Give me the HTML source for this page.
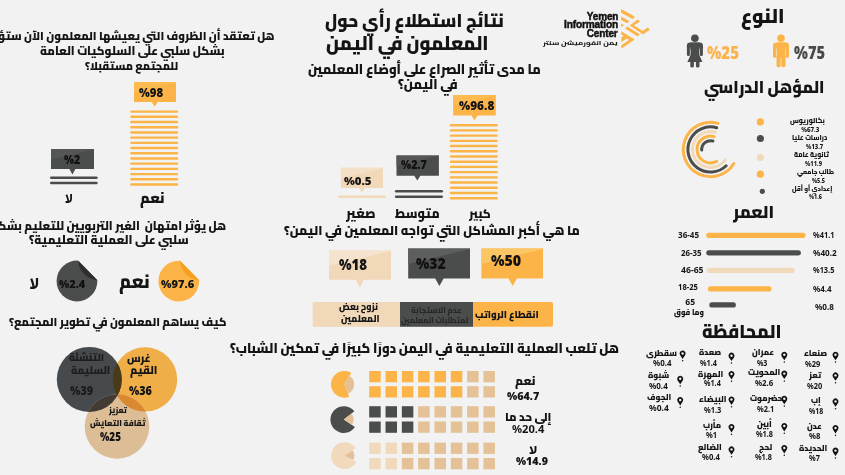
<!DOCTYPE html>
<html><head><meta charset="utf-8"><title>نتائج استطلاع رأي حول المعلمون في اليمن</title>
<style>
html,body{margin:0;padding:0;}
body{width:845px;height:475px;overflow:hidden;background:#f2f2f2;position:relative;}
.t{position:absolute;white-space:nowrap;line-height:1;direction:rtl;unicode-bidi:isolate;}
.b{display:inline-block;width:0;height:0;vertical-align:baseline;}
</style></head><body>
<svg width="845" height="475" viewBox="0 0 845 475" style="position:absolute;left:0;top:0"><path d="M134,82 H176 V102 H157.7 L154.7,106.8 L151.7,102 H134 Z" fill="#fcb448"/>
<path d="M134,82 H176 V82.40 L134,92.40 Z" fill="#fdbb52"/>
<line x1="131.39999999999998" y1="111.6" x2="177.0" y2="111.6" stroke="#fcb448" stroke-width="2.4" stroke-linecap="round" />
<line x1="131.39999999999998" y1="116.81" x2="177.0" y2="116.81" stroke="#fcb448" stroke-width="2.4" stroke-linecap="round" />
<line x1="131.39999999999998" y1="122.01" x2="177.0" y2="122.01" stroke="#fcb448" stroke-width="2.4" stroke-linecap="round" />
<line x1="131.39999999999998" y1="127.22" x2="177.0" y2="127.22" stroke="#fcb448" stroke-width="2.4" stroke-linecap="round" />
<line x1="131.39999999999998" y1="132.43" x2="177.0" y2="132.43" stroke="#fcb448" stroke-width="2.4" stroke-linecap="round" />
<line x1="131.39999999999998" y1="137.63" x2="177.0" y2="137.63" stroke="#fcb448" stroke-width="2.4" stroke-linecap="round" />
<line x1="131.39999999999998" y1="142.84" x2="177.0" y2="142.84" stroke="#fcb448" stroke-width="2.4" stroke-linecap="round" />
<line x1="131.39999999999998" y1="148.05" x2="177.0" y2="148.05" stroke="#fcb448" stroke-width="2.4" stroke-linecap="round" />
<line x1="131.39999999999998" y1="153.26" x2="177.0" y2="153.26" stroke="#fcb448" stroke-width="2.4" stroke-linecap="round" />
<line x1="131.39999999999998" y1="158.46" x2="177.0" y2="158.46" stroke="#fcb448" stroke-width="2.4" stroke-linecap="round" />
<line x1="131.39999999999998" y1="163.67" x2="177.0" y2="163.67" stroke="#fcb448" stroke-width="2.4" stroke-linecap="round" />
<line x1="131.39999999999998" y1="168.88" x2="177.0" y2="168.88" stroke="#fcb448" stroke-width="2.4" stroke-linecap="round" />
<line x1="131.39999999999998" y1="174.08" x2="177.0" y2="174.08" stroke="#fcb448" stroke-width="2.4" stroke-linecap="round" />
<line x1="131.39999999999998" y1="179.29" x2="177.0" y2="179.29" stroke="#fcb448" stroke-width="2.4" stroke-linecap="round" />
<line x1="131.39999999999998" y1="184.5" x2="177.0" y2="184.5" stroke="#fcb448" stroke-width="2.4" stroke-linecap="round" />
<path d="M51,149 H94 V169 H75.4 L72.4,174.6 L69.4,169 H51 Z" fill="#4b4c4c"/>
<path d="M51,149 H94 V149.40 L51,159.40 Z" fill="#555656"/>
<line x1="51.2" y1="177.8" x2="96.5" y2="177.8" stroke="#4b4c4c" stroke-width="2.4" stroke-linecap="round" />
<line x1="51.2" y1="183.0" x2="96.5" y2="183.0" stroke="#4b4c4c" stroke-width="2.4" stroke-linecap="round" />
<path d="M453.2,95 H495.8 V115.5 H477.5 L474.5,120.5 L471.5,115.5 H453.2 Z" fill="#fcb448"/>
<path d="M453.2,95 H495.8 V95.41 L453.2,105.66 Z" fill="#fdbb52"/>
<line x1="451.0" y1="125.2" x2="496.6" y2="125.2" stroke="#fcb448" stroke-width="2.4" stroke-linecap="round" />
<line x1="451.0" y1="130.41" x2="496.6" y2="130.41" stroke="#fcb448" stroke-width="2.4" stroke-linecap="round" />
<line x1="451.0" y1="135.63" x2="496.6" y2="135.63" stroke="#fcb448" stroke-width="2.4" stroke-linecap="round" />
<line x1="451.0" y1="140.84" x2="496.6" y2="140.84" stroke="#fcb448" stroke-width="2.4" stroke-linecap="round" />
<line x1="451.0" y1="146.06" x2="496.6" y2="146.06" stroke="#fcb448" stroke-width="2.4" stroke-linecap="round" />
<line x1="451.0" y1="151.27" x2="496.6" y2="151.27" stroke="#fcb448" stroke-width="2.4" stroke-linecap="round" />
<line x1="451.0" y1="156.48" x2="496.6" y2="156.48" stroke="#fcb448" stroke-width="2.4" stroke-linecap="round" />
<line x1="451.0" y1="161.7" x2="496.6" y2="161.7" stroke="#fcb448" stroke-width="2.4" stroke-linecap="round" />
<line x1="451.0" y1="166.91" x2="496.6" y2="166.91" stroke="#fcb448" stroke-width="2.4" stroke-linecap="round" />
<line x1="451.0" y1="172.13" x2="496.6" y2="172.13" stroke="#fcb448" stroke-width="2.4" stroke-linecap="round" />
<line x1="451.0" y1="177.34" x2="496.6" y2="177.34" stroke="#fcb448" stroke-width="2.4" stroke-linecap="round" />
<line x1="451.0" y1="182.55" x2="496.6" y2="182.55" stroke="#fcb448" stroke-width="2.4" stroke-linecap="round" />
<line x1="451.0" y1="187.77" x2="496.6" y2="187.77" stroke="#fcb448" stroke-width="2.4" stroke-linecap="round" />
<line x1="451.0" y1="192.98" x2="496.6" y2="192.98" stroke="#fcb448" stroke-width="2.4" stroke-linecap="round" />
<line x1="451.0" y1="198.2" x2="496.6" y2="198.2" stroke="#fcb448" stroke-width="2.4" stroke-linecap="round" />
<path d="M396.5,155.5 H438.9 V175.7 H420.3 L417.3,180.6 L414.3,175.7 H396.5 Z" fill="#4b4c4c"/>
<path d="M396.5,155.5 H438.9 V155.90 L396.5,166.00 Z" fill="#555656"/>
<line x1="396.09999999999997" y1="191.2" x2="441.8" y2="191.2" stroke="#4b4c4c" stroke-width="2.4" stroke-linecap="round" />
<line x1="396.09999999999997" y1="196.8" x2="441.8" y2="196.8" stroke="#4b4c4c" stroke-width="2.4" stroke-linecap="round" />
<path d="M340.9,167.8 H383 V188 H365.0 L362,192.6 L359.0,188 H340.9 Z" fill="#f1d8b9"/>
<path d="M340.9,167.8 H383 V168.20 L340.9,178.30 Z" fill="#f4e0c6"/>
<line x1="339.2" y1="196.8" x2="384.8" y2="196.8" stroke="#f1d8b9" stroke-width="2.4" stroke-linecap="round" />
<path d="M329,250.4 H391 V279.8 H364.0 L359.8,287.5 L355.6,279.8 H329 Z" fill="#f1d8b9"/>
<path d="M329,250.4 H391 V250.99 L329,265.69 Z" fill="#f5e3cd"/>
<path d="M408.2,248.5 H470 V278.4 H443.59999999999997 L439.4,286 L435.2,278.4 H408.2 Z" fill="#4b4c4c"/>
<path d="M408.2,248.5 H470 V249.10 L408.2,264.05 Z" fill="#5d5e5e"/>
<path d="M481.4,248.5 H543 V278.4 H516.9000000000001 L512.7,286 L508.50000000000006,278.4 H481.4 Z" fill="#fcb448"/>
<path d="M481.4,248.5 H543 V249.10 L481.4,264.05 Z" fill="#fdc665"/>
<rect x="312.7" y="302" width="87.5" height="24.8" rx="0" fill="#f1d8b9" />
<rect x="400" y="302" width="73.2" height="24.8" rx="0" fill="#4b4c4c" />
<path d="M473,302 H551 Q553,302 553,304 V324.8 Q553,326.8 551,326.8 H473 Z" fill="#fcb448"/>
<path d="M180.05,260.74 A20.4,20.4 0 1 0 199.18,280.32 Z" fill="#fcb448"/>
<path d="M180.05,260.74 A20.4,20.4 0 0 0 199.18,280.32 Z" fill="#f7a020"/>
<path d="M78.25,260.64 A20.4,20.4 0 1 0 97.38,280.22 Z" fill="#4b4c4c"/>
<path d="M78.25,260.64 A20.4,20.4 0 0 0 97.38,280.22 Z" fill="#2e2e2e"/>
<clipPath id="cO"><circle cx="145" cy="379.4" r="32.2" fill="#000" /></clipPath>
<clipPath id="cD"><circle cx="89.3" cy="379.4" r="32.5" fill="#000" /></clipPath>
<circle cx="145" cy="379.4" r="32.2" fill="#efae48" />
<circle cx="89.3" cy="379.4" r="32.5" fill="#464a4c" />
<circle cx="117" cy="426.5" r="32.3" fill="#dcbd96" />
<circle cx="89.3" cy="379.4" r="32.5" fill="#4b3a18" clip-path="url(#cO)"/>
<circle cx="117" cy="426.5" r="32.3" fill="#d9892f" clip-path="url(#cO)"/>
<circle cx="117" cy="426.5" r="32.3" fill="#433b33" clip-path="url(#cD)"/>
<g clip-path="url(#cO)"><circle cx="117" cy="426.5" r="32.3" fill="#3d2d15" clip-path="url(#cD)"/></g>
<path d="M344.4,384.3 L349.30,396.77 A13.4,13.4 0 1 1 351.39,372.87 Z" fill="#fcb448"/>
<path d="M344.4,384.3 L349.51,375.94 A9.8,9.8 0 0 1 347.99,393.42 Z" fill="#e4c197"/>
<path d="M343.8,419.6 L354.91,427.09 A13.4,13.4 0 1 1 354.36,411.35 Z" fill="#4b4c4c"/>
<path d="M343.8,419.6 L351.52,413.57 A9.8,9.8 0 0 1 351.92,425.08 Z" fill="#e4c197"/>
<path d="M344.5,455.7 L356.48,461.70 A13.4,13.4 0 1 1 355.53,448.09 Z" fill="#f1d9bb"/>
<path d="M344.5,455.7 L352.57,450.14 A9.8,9.8 0 0 1 353.26,460.09 Z" fill="#e4c197"/>
<rect x="369.2" y="371" width="11.5" height="11.3" rx="0" fill="#fcb448" />
<rect x="385.52" y="371" width="11.5" height="11.3" rx="0" fill="#fcb448" />
<rect x="401.84" y="371" width="11.5" height="11.3" rx="0" fill="#fcb448" />
<rect x="418.16" y="371" width="11.5" height="11.3" rx="0" fill="#fcb448" />
<rect x="434.48" y="371" width="11.5" height="11.3" rx="0" fill="#fcb448" />
<rect x="450.8" y="371" width="11.5" height="11.3" rx="0" fill="#fcb448" />
<rect x="467.12" y="371" width="11.5" height="11.3" rx="0" fill="#e4c197" />
<rect x="483.44" y="371" width="11.5" height="11.3" rx="0" fill="#e4c197" />
<rect x="369.2" y="386.2" width="11.5" height="11.3" rx="0" fill="#fcb448" />
<rect x="385.52" y="386.2" width="11.5" height="11.3" rx="0" fill="#fcb448" />
<rect x="401.84" y="386.2" width="11.5" height="11.3" rx="0" fill="#fcb448" />
<rect x="418.16" y="386.2" width="11.5" height="11.3" rx="0" fill="#fcb448" />
<rect x="434.48" y="386.2" width="11.5" height="11.3" rx="0" fill="#fcb448" />
<rect x="450.8" y="386.2" width="11.5" height="11.3" rx="0" fill="#fcb448" />
<rect x="467.12" y="386.2" width="11.5" height="11.3" rx="0" fill="#e4c197" />
<rect x="483.44" y="386.2" width="11.5" height="11.3" rx="0" fill="#e4c197" />
<rect x="369.2" y="406.2" width="11.5" height="11.3" rx="0" fill="#4b4c4c" />
<rect x="385.52" y="406.2" width="11.5" height="11.3" rx="0" fill="#4b4c4c" />
<rect x="401.84" y="406.2" width="11.5" height="11.3" rx="0" fill="#4b4c4c" />
<rect x="418.16" y="406.2" width="11.5" height="11.3" rx="0" fill="#e4c197" />
<rect x="434.48" y="406.2" width="11.5" height="11.3" rx="0" fill="#e4c197" />
<rect x="450.8" y="406.2" width="11.5" height="11.3" rx="0" fill="#e4c197" />
<rect x="467.12" y="406.2" width="11.5" height="11.3" rx="0" fill="#e4c197" />
<rect x="483.44" y="406.2" width="11.5" height="11.3" rx="0" fill="#e4c197" />
<rect x="369.2" y="421.5" width="11.5" height="11.3" rx="0" fill="#4b4c4c" />
<rect x="385.52" y="421.5" width="11.5" height="11.3" rx="0" fill="#4b4c4c" />
<rect x="401.84" y="421.5" width="11.5" height="11.3" rx="0" fill="#4b4c4c" />
<rect x="418.16" y="421.5" width="11.5" height="11.3" rx="0" fill="#e4c197" />
<rect x="434.48" y="421.5" width="11.5" height="11.3" rx="0" fill="#e4c197" />
<rect x="450.8" y="421.5" width="11.5" height="11.3" rx="0" fill="#e4c197" />
<rect x="467.12" y="421.5" width="11.5" height="11.3" rx="0" fill="#e4c197" />
<rect x="483.44" y="421.5" width="11.5" height="11.3" rx="0" fill="#e4c197" />
<rect x="369.2" y="442.6" width="11.5" height="11.3" rx="0" fill="#f1d9bb" />
<rect x="385.52" y="442.6" width="11.5" height="11.3" rx="0" fill="#f1d9bb" />
<rect x="401.84" y="442.6" width="11.5" height="11.3" rx="0" fill="#e4c197" />
<rect x="418.16" y="442.6" width="11.5" height="11.3" rx="0" fill="#e4c197" />
<rect x="434.48" y="442.6" width="11.5" height="11.3" rx="0" fill="#e4c197" />
<rect x="450.8" y="442.6" width="11.5" height="11.3" rx="0" fill="#e4c197" />
<rect x="467.12" y="442.6" width="11.5" height="11.3" rx="0" fill="#e4c197" />
<rect x="483.44" y="442.6" width="11.5" height="11.3" rx="0" fill="#e4c197" />
<rect x="369.2" y="458" width="11.5" height="11.3" rx="0" fill="#f1d9bb" />
<rect x="385.52" y="458" width="11.5" height="11.3" rx="0" fill="#f1d9bb" />
<rect x="401.84" y="458" width="11.5" height="11.3" rx="0" fill="#e4c197" />
<rect x="418.16" y="458" width="11.5" height="11.3" rx="0" fill="#e4c197" />
<rect x="434.48" y="458" width="11.5" height="11.3" rx="0" fill="#e4c197" />
<rect x="450.8" y="458" width="11.5" height="11.3" rx="0" fill="#e4c197" />
<rect x="467.12" y="458" width="11.5" height="11.3" rx="0" fill="#e4c197" />
<rect x="483.44" y="458" width="11.5" height="11.3" rx="0" fill="#e4c197" />
<circle cx="781" cy="38.3" r="3.8" fill="#fcb448"/>
<rect x="773" y="42.6" width="16" height="7" rx="3" fill="#fcb448"/>
<rect x="773" y="45" width="3.1" height="12.7" rx="1.5" fill="#fcb448"/>
<rect x="785.9" y="45" width="3.1" height="12.7" rx="1.5" fill="#fcb448"/>
<rect x="776.5" y="42.6" width="9" height="15" fill="#fcb448"/>
<line x1="776.3" y1="47.5" x2="776.3" y2="58.0" stroke="#f2f2f2" stroke-width="0.5" opacity="0.7"/>
<line x1="785.7" y1="47.5" x2="785.7" y2="58.0" stroke="#f2f2f2" stroke-width="0.5" opacity="0.7"/>
<rect x="776.5" y="55" width="4.3" height="12.2" rx="1.6" fill="#fcb448"/>
<rect x="781.2" y="55" width="4.3" height="12.2" rx="1.6" fill="#fcb448"/>
<line x1="781" y1="58" x2="781" y2="67.5" stroke="#f2f2f2" stroke-width="0.5" opacity="0.7"/>
<circle cx="694.9" cy="38.3" r="3.8" fill="#4b4c4c"/>
<rect x="686.9" y="42.6" width="16" height="7" rx="3" fill="#4b4c4c"/>
<rect x="686.9" y="45" width="3.1" height="10.9" rx="1.5" fill="#4b4c4c"/>
<rect x="699.8" y="45" width="3.1" height="10.9" rx="1.5" fill="#4b4c4c"/>
<rect x="690.4" y="42.6" width="9" height="15" fill="#4b4c4c"/>
<line x1="690.1999999999999" y1="47.5" x2="690.1999999999999" y2="56.199999999999996" stroke="#f2f2f2" stroke-width="0.5" opacity="0.7"/>
<line x1="699.6" y1="47.5" x2="699.6" y2="56.199999999999996" stroke="#f2f2f2" stroke-width="0.5" opacity="0.7"/>
<path d="M690.4,55.2 H699.4 L702.4,62.0 H687.4 Z" fill="#4b4c4c"/>
<rect x="690.3" y="60" width="3.6" height="7.6" rx="1.5" fill="#4b4c4c"/>
<rect x="695.9" y="60" width="3.6" height="7.6" rx="1.5" fill="#4b4c4c"/>
<path d="M718.00,123.35 A27.2,27.2 0 1 0 733.81,163.51" fill="none" stroke="#fcb448" stroke-width="3.0" stroke-linecap="round"/>
<path d="M716.73,127.78 A22.6,22.6 0 1 0 726.20,165.76" fill="none" stroke="#4b4c4c" stroke-width="3.0" stroke-linecap="round"/>
<path d="M715.46,132.20 A18.0,18.0 0 1 0 725.24,159.82" fill="none" stroke="#f1d9bb" stroke-width="3.0" stroke-linecap="round"/>
<path d="M714.19,136.62 A13.4,13.4 0 1 0 716.58,161.44" fill="none" stroke="#fcb448" stroke-width="3.0" stroke-linecap="round"/>
<path d="M712.93,141.04 A8.8,8.8 0 0 0 701.72,150.11" fill="none" stroke="#4b4c4c" stroke-width="3.0" stroke-linecap="round"/>
<circle cx="760.4" cy="121.9" r="3.6" fill="#fcb448"/>
<circle cx="760.4" cy="138.5" r="3.6" fill="#4b4c4c"/>
<circle cx="760.4" cy="157.5" r="3.6" fill="#f1d9bb"/>
<circle cx="760.4" cy="174.2" r="3.6" fill="#fcb448"/>
<circle cx="762.3" cy="191.3" r="2.6" fill="#4b4c4c"/>
<line x1="708.8000000000001" y1="235.3" x2="803.0" y2="235.3" stroke="#fcb448" stroke-width="5.2" stroke-linecap="round" />
<line x1="708.8000000000001" y1="252.8" x2="798.3" y2="252.8" stroke="#4b4c4c" stroke-width="5.2" stroke-linecap="round" />
<line x1="709.3000000000001" y1="270.4" x2="792.1" y2="270.4" stroke="#f1d9bb" stroke-width="5.2" stroke-linecap="round" />
<line x1="710.5" y1="288.9" x2="768.9" y2="288.9" stroke="#fcb448" stroke-width="5.2" stroke-linecap="round" />
<line x1="711.9" y1="304.9" x2="733.3" y2="304.9" stroke="#4b4c4c" stroke-width="5.2" stroke-linecap="round" />
<path d="M835.5,360.20 L832.95,356.40 A3.0,3.0 0 1 1 838.05,356.40 Z" fill="#111"/>
<circle cx="835.5" cy="354.80" r="1.2" fill="#f2f2f2"/>
<circle cx="835.5" cy="362.10" r="0.75" fill="#111"/>
<path d="M835.5,380.80 L832.95,377.00 A3.0,3.0 0 1 1 838.05,377.00 Z" fill="#111"/>
<circle cx="835.5" cy="375.40" r="1.2" fill="#f2f2f2"/>
<circle cx="835.5" cy="382.70" r="0.75" fill="#111"/>
<path d="M835.5,406.80 L832.95,403.00 A3.0,3.0 0 1 1 838.05,403.00 Z" fill="#111"/>
<circle cx="835.5" cy="401.40" r="1.2" fill="#f2f2f2"/>
<circle cx="835.5" cy="408.70" r="0.75" fill="#111"/>
<path d="M835.5,433.40 L832.95,429.60 A3.0,3.0 0 1 1 838.05,429.60 Z" fill="#111"/>
<circle cx="835.5" cy="428.00" r="1.2" fill="#f2f2f2"/>
<circle cx="835.5" cy="435.30" r="0.75" fill="#111"/>
<path d="M835.5,456.00 L832.95,452.20 A3.0,3.0 0 1 1 838.05,452.20 Z" fill="#111"/>
<circle cx="835.5" cy="450.60" r="1.2" fill="#f2f2f2"/>
<circle cx="835.5" cy="457.90" r="0.75" fill="#111"/>
<path d="M784.3,360.20 L781.75,356.40 A3.0,3.0 0 1 1 786.85,356.40 Z" fill="#111"/>
<circle cx="784.3" cy="354.80" r="1.2" fill="#f2f2f2"/>
<circle cx="784.3" cy="362.10" r="0.75" fill="#111"/>
<path d="M784.3,379.00 L781.75,375.20 A3.0,3.0 0 1 1 786.85,375.20 Z" fill="#111"/>
<circle cx="784.3" cy="373.60" r="1.2" fill="#f2f2f2"/>
<circle cx="784.3" cy="380.90" r="0.75" fill="#111"/>
<path d="M784.3,404.20 L781.75,400.40 A3.0,3.0 0 1 1 786.85,400.40 Z" fill="#111"/>
<circle cx="784.3" cy="398.80" r="1.2" fill="#f2f2f2"/>
<circle cx="784.3" cy="406.10" r="0.75" fill="#111"/>
<path d="M784.3,431.40 L781.75,427.60 A3.0,3.0 0 1 1 786.85,427.60 Z" fill="#111"/>
<circle cx="784.3" cy="426.00" r="1.2" fill="#f2f2f2"/>
<circle cx="784.3" cy="433.30" r="0.75" fill="#111"/>
<path d="M784.3,453.40 L781.75,449.60 A3.0,3.0 0 1 1 786.85,449.60 Z" fill="#111"/>
<circle cx="784.3" cy="448.00" r="1.2" fill="#f2f2f2"/>
<circle cx="784.3" cy="455.30" r="0.75" fill="#111"/>
<path d="M731.5,361.10 L728.95,357.30 A3.0,3.0 0 1 1 734.05,357.30 Z" fill="#111"/>
<circle cx="731.5" cy="355.70" r="1.2" fill="#f2f2f2"/>
<circle cx="731.5" cy="363.00" r="0.75" fill="#111"/>
<path d="M731.5,379.40 L728.95,375.60 A3.0,3.0 0 1 1 734.05,375.60 Z" fill="#111"/>
<circle cx="731.5" cy="374.00" r="1.2" fill="#f2f2f2"/>
<circle cx="731.5" cy="381.30" r="0.75" fill="#111"/>
<path d="M731.5,404.90 L728.95,401.10 A3.0,3.0 0 1 1 734.05,401.10 Z" fill="#111"/>
<circle cx="731.5" cy="399.50" r="1.2" fill="#f2f2f2"/>
<circle cx="731.5" cy="406.80" r="0.75" fill="#111"/>
<path d="M731.5,432.40 L728.95,428.60 A3.0,3.0 0 1 1 734.05,428.60 Z" fill="#111"/>
<circle cx="731.5" cy="427.00" r="1.2" fill="#f2f2f2"/>
<circle cx="731.5" cy="434.30" r="0.75" fill="#111"/>
<path d="M731.5,454.80 L728.95,451.00 A3.0,3.0 0 1 1 734.05,451.00 Z" fill="#111"/>
<circle cx="731.5" cy="449.40" r="1.2" fill="#f2f2f2"/>
<circle cx="731.5" cy="456.70" r="0.75" fill="#111"/>
<path d="M682.6,358.90 L680.05,355.10 A3.0,3.0 0 1 1 685.15,355.10 Z" fill="#111"/>
<circle cx="682.6" cy="353.50" r="1.2" fill="#f2f2f2"/>
<circle cx="682.6" cy="360.80" r="0.75" fill="#111"/>
<path d="M680.2,384.20 L677.65,380.40 A3.0,3.0 0 1 1 682.75,380.40 Z" fill="#111"/>
<circle cx="680.2" cy="378.80" r="1.2" fill="#f2f2f2"/>
<circle cx="680.2" cy="386.10" r="0.75" fill="#111"/>
<path d="M680.2,405.40 L677.65,401.60 A3.0,3.0 0 1 1 682.75,401.60 Z" fill="#111"/>
<circle cx="680.2" cy="400.00" r="1.2" fill="#f2f2f2"/>
<circle cx="680.2" cy="407.30" r="0.75" fill="#111"/>
<g fill="#fcb448">
<polygon points="621.1,9.1 634.7,16.6 633.0,19.3 621.1,12.7"/>
<polygon points="621.1,16.6 629.2,21.1 627.3,23.3 621.1,20.1"/>
<polygon points="621.1,23.6 624.2,25.3 621.1,27.1"/>
<polygon points="637.6,19.6 640.2,21.4 633.9,25.3 642.8,31.0 647.6,27.5 650.0,29.5 643.1,34.5 629.8,25.6"/>
<polygon points="625.1,28.4 627.1,26.4 639.7,34.2 637.7,36.6"/>
<polygon points="621.3,31.3 634.7,39.4 621.3,48.7 621.3,45.2 628.9,39.9 626.9,38.4 621.3,42.0 621.3,37.6 623.6,36.1 621.3,34.6"/>
</g></svg>
<span id="t0" class="t" style="left:-11.00px;top:30.40px;font-family:'Cairo','DejaVu Sans',sans-serif;font-size:11.94px;font-weight:900;color:#141414;transform:scale(0.9259,1.0000);transform-origin:0 0;">هل تعتقد أن الظروف التي يعيشها المعلمون الآن ستؤثر<i class="b"></i></span>
<span id="t1" class="t" style="left:40.00px;top:45.20px;font-family:'Cairo','DejaVu Sans',sans-serif;font-size:12.26px;font-weight:900;color:#141414;transform:scale(0.9229,1.0000);transform-origin:0 0;">بشكل سلبي على السلوكيات العامة<i class="b"></i></span>
<span id="t2" class="t" style="left:85.20px;top:61.30px;font-family:'Cairo','DejaVu Sans',sans-serif;font-size:11.63px;font-weight:900;color:#141414;transform:scale(0.9259,1.0000);transform-origin:0 0;">للمجتمع مستقبلا؟<i class="b"></i></span>
<span id="t3" class="t" style="left:139.30px;top:86.80px;font-family:'Noto Sans','Open Sans','Liberation Sans',sans-serif;font-size:12.50px;font-weight:900;color:#141414;transform:scale(0.9115,1.0000);transform-origin:0 0;">%98<i class="b"></i></span>
<span id="t4" class="t" style="left:64.30px;top:153.90px;font-family:'Noto Sans','Open Sans','Liberation Sans',sans-serif;font-size:12.20px;font-weight:900;color:#101010;transform:scale(0.8722,1.0000);transform-origin:0 0;">%2<i class="b"></i></span>
<span id="t5" class="t" style="left:140.20px;top:189.50px;font-family:'Cairo','DejaVu Sans',sans-serif;font-size:15.12px;font-weight:900;color:#141414;transform:scale(0.9259,1.0000);transform-origin:0 0;">نعم<i class="b"></i></span>
<span id="t6" class="t" style="left:65.10px;top:193.90px;font-family:'Vazirmatn','Cairo',sans-serif;font-size:13.00px;font-weight:900;color:#141414;">لا<i class="b"></i></span>
<span id="t7" class="t" style="left:325.40px;top:11.00px;font-family:'Cairo','DejaVu Sans',sans-serif;font-size:18.35px;font-weight:900;color:#141414;transform:scale(0.9259,1.0000);transform-origin:0 0;">نتائج استطلاع رأي حول<i class="b"></i></span>
<span id="t8" class="t" style="left:325.70px;top:33.60px;font-family:'Cairo','DejaVu Sans',sans-serif;font-size:19.44px;font-weight:900;color:#141414;transform:scale(0.9259,1.0000);transform-origin:0 0;">المعلمون&nbsp;في&nbsp;اليمن<i class="b"></i></span>
<span id="t9" class="t" style="left:308.00px;top:63.00px;font-family:'Cairo','DejaVu Sans',sans-serif;font-size:13.68px;font-weight:900;color:#141414;transform:scale(0.9259,1.0000);transform-origin:0 0;">ما مدى تأثير الصراع على أوضاع المعلمين<i class="b"></i></span>
<span id="t10" class="t" style="left:398.00px;top:78.00px;font-family:'Cairo','DejaVu Sans',sans-serif;font-size:13.67px;font-weight:900;color:#141414;transform:scale(0.9259,1.0000);transform-origin:0 0;">في اليمن؟<i class="b"></i></span>
<span id="t11" class="t" style="left:459.00px;top:100.00px;font-family:'Noto Sans','Open Sans','Liberation Sans',sans-serif;font-size:12.40px;font-weight:900;color:#141414;transform:scale(0.9514,1.0000);transform-origin:0 0;">%96.8<i class="b"></i></span>
<span id="t12" class="t" style="left:401.30px;top:159.00px;font-family:'Noto Sans','Open Sans','Liberation Sans',sans-serif;font-size:12.40px;font-weight:900;color:#101010;transform:scale(0.8667,1.0000);transform-origin:0 0;">%2.7<i class="b"></i></span>
<span id="t13" class="t" style="left:344.40px;top:174.50px;font-family:'Noto Sans','Open Sans','Liberation Sans',sans-serif;font-size:11.10px;font-weight:900;color:#141414;transform:scale(1.0308,1.0000);transform-origin:0 0;">%0.5<i class="b"></i></span>
<span id="t14" class="t" style="left:468.80px;top:208.00px;font-family:'Cairo','DejaVu Sans',sans-serif;font-size:12.50px;font-weight:900;color:#141414;transform:scale(0.9259,1.0000);transform-origin:0 0;">كبير<i class="b"></i></span>
<span id="t15" class="t" style="left:394.90px;top:207.00px;font-family:'Cairo','DejaVu Sans',sans-serif;font-size:13.17px;font-weight:900;color:#141414;transform:scale(0.9259,1.0000);transform-origin:0 0;">متوسط<i class="b"></i></span>
<span id="t16" class="t" style="left:345.50px;top:207.00px;font-family:'Cairo','DejaVu Sans',sans-serif;font-size:13.50px;font-weight:900;color:#141414;transform:scale(0.9259,1.0000);transform-origin:0 0;">صغير<i class="b"></i></span>
<span id="t17" class="t" style="left:283.80px;top:224.40px;font-family:'Cairo','DejaVu Sans',sans-serif;font-size:13.27px;font-weight:900;color:#141414;transform:scale(0.9259,1.0000);transform-origin:0 0;">ما هي أكبر المشاكل التي تواجه المعلمين في اليمن؟<i class="b"></i></span>
<span id="t18" class="t" style="left:339.00px;top:255.70px;font-family:'Noto Sans','Open Sans','Liberation Sans',sans-serif;font-size:16.40px;font-weight:900;color:#141414;transform:scale(0.8086,1.0000);transform-origin:0 0;">%18<i class="b"></i></span>
<span id="t19" class="t" style="left:416.00px;top:255.40px;font-family:'Noto Sans','Open Sans','Liberation Sans',sans-serif;font-size:16.40px;font-weight:900;color:#101010;transform:scale(0.8523,1.0000);transform-origin:0 0;">%32<i class="b"></i></span>
<span id="t20" class="t" style="left:491.30px;top:252.00px;font-family:'Noto Sans','Open Sans','Liberation Sans',sans-serif;font-size:16.20px;font-weight:900;color:#141414;transform:scale(0.8794,1.0000);transform-origin:0 0;">%50<i class="b"></i></span>
<span id="t21" class="t" style="left:339.00px;top:302.40px;font-family:'Cairo','DejaVu Sans',sans-serif;font-size:9.36px;font-weight:900;color:#141414;transform:scale(0.9259,1.0000);transform-origin:0 0;">نزوح بعض<i class="b"></i></span>
<span id="t22" class="t" style="left:341.00px;top:314.00px;font-family:'Cairo','DejaVu Sans',sans-serif;font-size:9.54px;font-weight:900;color:#141414;transform:scale(0.9259,1.0000);transform-origin:0 0;">المعلمين<i class="b"></i></span>
<span id="t23" class="t" style="left:411.40px;top:305.70px;font-family:'Cairo','DejaVu Sans',sans-serif;font-size:8.58px;font-weight:800;color:#262626;transform:scale(0.9259,1.0000);transform-origin:0 0;">عدم الاستجابة<i class="b"></i></span>
<span id="t24" class="t" style="left:401.40px;top:316.00px;font-family:'Cairo','DejaVu Sans',sans-serif;font-size:8.33px;font-weight:800;color:#262626;transform:scale(0.9259,1.0000);transform-origin:0 0;">لمتطلبات المعلمين<i class="b"></i></span>
<span id="t25" class="t" style="left:475.30px;top:309.50px;font-family:'Cairo','DejaVu Sans',sans-serif;font-size:10.16px;font-weight:900;color:#141414;transform:scale(0.9259,1.0000);transform-origin:0 0;">انقطاع الرواتب<i class="b"></i></span>
<span id="t26" class="t" style="left:-10.20px;top:220.40px;font-family:'Cairo','DejaVu Sans',sans-serif;font-size:12.17px;font-weight:900;color:#141414;transform:scale(0.9259,1.0000);transform-origin:0 0;">هل يؤثر امتهان&nbsp; الغير التربويين للتعليم بشكل<i class="b"></i></span>
<span id="t27" class="t" style="left:28.50px;top:234.00px;font-family:'Cairo','DejaVu Sans',sans-serif;font-size:12.50px;font-weight:900;color:#141414;transform:scale(0.9259,1.0000);transform-origin:0 0;">سلبي على العملية التعليمية؟<i class="b"></i></span>
<span id="t28" class="t" style="left:161.40px;top:277.60px;font-family:'Noto Sans','Open Sans','Liberation Sans',sans-serif;font-size:11.30px;font-weight:900;color:#141414;transform:scale(0.9794,1.0000);transform-origin:0 0;">%97.6<i class="b"></i></span>
<span id="t29" class="t" style="left:118.90px;top:273.00px;font-family:'Cairo','DejaVu Sans',sans-serif;font-size:18.75px;font-weight:900;color:#141414;transform:scale(0.9259,1.0000);transform-origin:0 0;">نعم<i class="b"></i></span>
<span id="t30" class="t" style="left:59.40px;top:277.60px;font-family:'Noto Sans','Open Sans','Liberation Sans',sans-serif;font-size:11.30px;font-weight:900;color:#101010;transform:scale(0.9643,1.0000);transform-origin:0 0;">%2.4<i class="b"></i></span>
<span id="t31" class="t" style="left:29.40px;top:277.60px;font-family:'Vazirmatn','Cairo',sans-serif;font-size:16.00px;font-weight:900;color:#141414;">لا<i class="b"></i></span>
<span id="t32" class="t" style="left:8.90px;top:316.30px;font-family:'Cairo','DejaVu Sans',sans-serif;font-size:11.90px;font-weight:900;color:#141414;transform:scale(0.9242,1.0000);transform-origin:0 0;">كيف يساهم المعلمون في تطوير المجتمع؟<i class="b"></i></span>
<span id="t33" class="t" style="left:69.20px;top:352.00px;font-family:'Cairo','DejaVu Sans',sans-serif;font-size:10.57px;font-weight:900;color:#1c1c1c;transform:scale(0.9259,1.0000);transform-origin:0 0;">التنشئة<i class="b"></i></span>
<span id="t34" class="t" style="left:71.00px;top:365.00px;font-family:'Cairo','DejaVu Sans',sans-serif;font-size:10.78px;font-weight:900;color:#1c1c1c;transform:scale(0.9259,1.0000);transform-origin:0 0;">السليمة<i class="b"></i></span>
<span id="t35" class="t" style="left:69.50px;top:385.00px;font-family:'Noto Sans','Open Sans','Liberation Sans',sans-serif;font-size:12.40px;font-weight:900;color:#1c1c1c;transform:scale(0.8846,1.0000);transform-origin:0 0;">%39<i class="b"></i></span>
<span id="t36" class="t" style="left:126.60px;top:353.00px;font-family:'Cairo','DejaVu Sans',sans-serif;font-size:11.02px;font-weight:900;color:#141414;transform:scale(0.9259,1.0000);transform-origin:0 0;">غرس<i class="b"></i></span>
<span id="t37" class="t" style="left:130.30px;top:364.00px;font-family:'Cairo','DejaVu Sans',sans-serif;font-size:11.37px;font-weight:900;color:#141414;transform:scale(0.9259,1.0000);transform-origin:0 0;">القيم<i class="b"></i></span>
<span id="t38" class="t" style="left:129.30px;top:385.00px;font-family:'Noto Sans','Open Sans','Liberation Sans',sans-serif;font-size:12.40px;font-weight:900;color:#141414;transform:scale(0.8731,1.0000);transform-origin:0 0;">%36<i class="b"></i></span>
<span id="t39" class="t" style="left:109.00px;top:405.50px;font-family:'Cairo','DejaVu Sans',sans-serif;font-size:8.64px;font-weight:900;color:#141414;transform:scale(0.8527,1.0000);transform-origin:0 0;">تعزيز<i class="b"></i></span>
<span id="t40" class="t" style="left:90.00px;top:418.80px;font-family:'Cairo','DejaVu Sans',sans-serif;font-size:8.64px;font-weight:900;color:#141414;transform:scale(0.9097,1.0000);transform-origin:0 0;">ثقافة التعايش<i class="b"></i></span>
<span id="t41" class="t" style="left:100.40px;top:430.50px;font-family:'Noto Sans','Open Sans','Liberation Sans',sans-serif;font-size:12.10px;font-weight:900;color:#141414;transform:scale(0.8172,1.0000);transform-origin:0 0;">%25<i class="b"></i></span>
<span id="t42" class="t" style="left:229.50px;top:341.80px;font-family:'Cairo','DejaVu Sans',sans-serif;font-size:13.70px;font-weight:900;color:#141414;transform:scale(0.9259,1.0000);transform-origin:0 0;">هل تلعب العملية التعليمية في اليمن دورًا كبيرًا في تمكين الشباب؟<i class="b"></i></span>
<span id="t43" class="t" style="left:515.20px;top:375.00px;font-family:'Cairo','DejaVu Sans',sans-serif;font-size:12.64px;font-weight:900;color:#141414;transform:scale(0.9259,1.0000);transform-origin:0 0;">نعم<i class="b"></i></span>
<span id="t44" class="t" style="left:506.50px;top:389.80px;font-family:'Noto Sans','Open Sans','Liberation Sans',sans-serif;font-size:11.10px;font-weight:900;color:#141414;transform:scale(0.9706,1.0000);transform-origin:0 0;">%64.7<i class="b"></i></span>
<span id="t45" class="t" style="left:504.80px;top:410.50px;font-family:'Cairo','DejaVu Sans',sans-serif;font-size:12.10px;font-weight:900;color:#141414;transform:scale(0.9259,1.0000);transform-origin:0 0;">إلى حد ما<i class="b"></i></span>
<span id="t46" class="t" style="left:511.80px;top:423.70px;font-family:'Noto Sans','Open Sans','Liberation Sans',sans-serif;font-size:10.80px;font-weight:700;color:#141414;transform:scale(1.0332,1.0000);transform-origin:0 0;">%20.4<i class="b"></i></span>
<span id="t47" class="t" style="left:528.80px;top:445.30px;font-family:'Vazirmatn','Cairo',sans-serif;font-size:12.00px;font-weight:900;color:#141414;transform:scale(1.1571,1.0000);transform-origin:0 0;">لا<i class="b"></i></span>
<span id="t48" class="t" style="left:515.70px;top:454.80px;font-family:'Noto Sans','Open Sans','Liberation Sans',sans-serif;font-size:11.10px;font-weight:900;color:#141414;transform:scale(0.9606,1.0000);transform-origin:0 0;">%14.9<i class="b"></i></span>
<span id="t49" class="t" style="left:741.00px;top:6.00px;font-family:'Cairo','DejaVu Sans',sans-serif;font-size:19.93px;font-weight:900;color:#141414;transform:scale(0.9491,1.0000);transform-origin:0 0;">النوع<i class="b"></i></span>
<span id="t50" class="t" style="left:794.30px;top:44.00px;font-family:'Noto Sans','Open Sans','Liberation Sans',sans-serif;font-size:17.20px;font-weight:900;color:#4a4a4a;transform:scale(0.8528,1.0000);transform-origin:0 0;">%75<i class="b"></i></span>
<span id="t51" class="t" style="left:707.30px;top:44.00px;font-family:'Noto Sans','Open Sans','Liberation Sans',sans-serif;font-size:17.20px;font-weight:900;color:#fcb34a;transform:scale(0.8806,1.0000);transform-origin:0 0;">%25<i class="b"></i></span>
<span id="t52" class="t" style="left:704.00px;top:79.00px;font-family:'Cairo','DejaVu Sans',sans-serif;font-size:17.02px;font-weight:900;color:#141414;transform:scale(0.9259,1.0000);transform-origin:0 0;">المؤهل الدراسي<i class="b"></i></span>
<span id="t53" class="t" style="left:789.90px;top:116.50px;font-family:'Cairo','DejaVu Sans',sans-serif;font-size:7.17px;font-weight:900;color:#141414;transform:scale(0.9263,1.0000);transform-origin:0 0;">بكالوريوس<i class="b"></i></span>
<span id="t54" class="t" style="left:801.20px;top:126.50px;font-family:'Noto Sans','Open Sans','Liberation Sans',sans-serif;font-size:6.20px;font-weight:800;color:#141414;">%67.3<i class="b"></i></span>
<span id="t55" class="t" style="left:791.80px;top:133.80px;font-family:'Cairo','DejaVu Sans',sans-serif;font-size:6.98px;font-weight:900;color:#141414;transform:scale(0.9263,1.0000);transform-origin:0 0;">دراسات عليا<i class="b"></i></span>
<span id="t56" class="t" style="left:806.00px;top:144.00px;font-family:'Noto Sans','Open Sans','Liberation Sans',sans-serif;font-size:6.20px;font-weight:800;color:#141414;transform:scale(0.9444,1.0000);transform-origin:0 0;">%13.7<i class="b"></i></span>
<span id="t57" class="t" style="left:794.30px;top:151.30px;font-family:'Cairo','DejaVu Sans',sans-serif;font-size:7.04px;font-weight:900;color:#141414;transform:scale(0.9259,1.0000);transform-origin:0 0;">ثانوية عامة<i class="b"></i></span>
<span id="t58" class="t" style="left:805.40px;top:161.40px;font-family:'Noto Sans','Open Sans','Liberation Sans',sans-serif;font-size:6.20px;font-weight:800;color:#141414;transform:scale(0.9344,1.0000);transform-origin:0 0;">%11.9<i class="b"></i></span>
<span id="t59" class="t" style="left:797.40px;top:168.60px;font-family:'Cairo','DejaVu Sans',sans-serif;font-size:6.69px;font-weight:900;color:#141414;transform:scale(0.9259,1.0000);transform-origin:0 0;">طالب جامعي<i class="b"></i></span>
<span id="t60" class="t" style="left:811.90px;top:177.50px;font-family:'Noto Sans','Open Sans','Liberation Sans',sans-serif;font-size:6.20px;font-weight:800;color:#141414;transform:scale(0.8867,1.0000);transform-origin:0 0;">%5.5<i class="b"></i></span>
<span id="t61" class="t" style="left:792.00px;top:186.00px;font-family:'Cairo','DejaVu Sans',sans-serif;font-size:6.76px;font-weight:900;color:#141414;transform:scale(0.9259,1.0000);transform-origin:0 0;">إعدادي أو أقل<i class="b"></i></span>
<span id="t62" class="t" style="left:809.00px;top:194.20px;font-family:'Noto Sans','Open Sans','Liberation Sans',sans-serif;font-size:6.20px;font-weight:800;color:#141414;transform:scale(0.8800,1.0000);transform-origin:0 0;">%1.6<i class="b"></i></span>
<span id="t63" class="t" style="left:733.00px;top:202.60px;font-family:'Cairo','DejaVu Sans',sans-serif;font-size:17.80px;font-weight:900;color:#141414;transform:scale(0.9259,1.0000);transform-origin:0 0;">العمر<i class="b"></i></span>
<span id="t64" class="t" style="left:678.00px;top:231.20px;font-family:'Noto Sans','Open Sans','Liberation Sans',sans-serif;font-size:8.60px;font-weight:700;color:#141414;transform:scale(0.9409,1.0000);transform-origin:0 0;">36-45<i class="b"></i></span>
<span id="t65" class="t" style="left:812.60px;top:231.30px;font-family:'Noto Sans','Open Sans','Liberation Sans',sans-serif;font-size:8.60px;font-weight:700;color:#141414;transform:scale(0.8625,1.0000);transform-origin:0 0;">%41.1<i class="b"></i></span>
<span id="t66" class="t" style="left:681.00px;top:248.70px;font-family:'Noto Sans','Open Sans','Liberation Sans',sans-serif;font-size:8.60px;font-weight:700;color:#141414;transform:scale(0.9182,1.0000);transform-origin:0 0;">26-35<i class="b"></i></span>
<span id="t67" class="t" style="left:812.70px;top:248.70px;font-family:'Noto Sans','Open Sans','Liberation Sans',sans-serif;font-size:8.60px;font-weight:700;color:#141414;transform:scale(0.9520,1.0000);transform-origin:0 0;">%40.2<i class="b"></i></span>
<span id="t68" class="t" style="left:681.10px;top:266.40px;font-family:'Noto Sans','Open Sans','Liberation Sans',sans-serif;font-size:8.60px;font-weight:700;color:#141414;">46-65<i class="b"></i></span>
<span id="t69" class="t" style="left:813.00px;top:266.40px;font-family:'Noto Sans','Open Sans','Liberation Sans',sans-serif;font-size:8.60px;font-weight:700;color:#141414;transform:scale(0.8570,1.0000);transform-origin:0 0;">%13.5<i class="b"></i></span>
<span id="t70" class="t" style="left:677.50px;top:283.00px;font-family:'Noto Sans','Open Sans','Liberation Sans',sans-serif;font-size:8.60px;font-weight:700;color:#141414;transform:scale(0.8909,1.0000);transform-origin:0 0;">18-25<i class="b"></i></span>
<span id="t71" class="t" style="left:812.50px;top:285.00px;font-family:'Noto Sans','Open Sans','Liberation Sans',sans-serif;font-size:8.60px;font-weight:700;color:#141414;transform:scale(0.9300,1.0000);transform-origin:0 0;">%4.4<i class="b"></i></span>
<span id="t72" class="t" style="left:685.30px;top:298.20px;font-family:'Noto Sans','Open Sans','Liberation Sans',sans-serif;font-size:8.60px;font-weight:700;color:#141414;">65<i class="b"></i></span>
<span id="t73" class="t" style="left:815.00px;top:303.20px;font-family:'Noto Sans','Open Sans','Liberation Sans',sans-serif;font-size:8.60px;font-weight:700;color:#141414;transform:scale(0.9500,1.0000);transform-origin:0 0;">%0.8<i class="b"></i></span>
<span id="t74" class="t" style="left:674.20px;top:309.00px;font-family:'Cairo','DejaVu Sans',sans-serif;font-size:7.88px;font-weight:900;color:#141414;transform:scale(0.9259,1.0000);transform-origin:0 0;">وما فوق<i class="b"></i></span>
<span id="t75" class="t" style="left:701.80px;top:321.50px;font-family:'Cairo','DejaVu Sans',sans-serif;font-size:18.91px;font-weight:900;color:#141414;transform:scale(0.9259,1.0000);transform-origin:0 0;">المحافظة<i class="b"></i></span>
<span id="t76" class="t" style="left:803.80px;top:349.00px;font-family:'Cairo','DejaVu Sans',sans-serif;font-size:8.64px;font-weight:900;color:#141414;transform:scale(0.9259,1.0000);transform-origin:0 0;">صنعاء<i class="b"></i></span>
<span id="t77" class="t" style="left:804.50px;top:360.40px;font-family:'Noto Sans','Open Sans','Liberation Sans',sans-serif;font-size:8.80px;font-weight:700;color:#141414;transform:scale(0.8500,1.0000);transform-origin:0 0;">%29<i class="b"></i></span>
<span id="t78" class="t" style="left:809.05px;top:370.50px;font-family:'Cairo','DejaVu Sans',sans-serif;font-size:8.64px;font-weight:900;color:#141414;transform:scale(0.9259,1.0000);transform-origin:0 0;">تعز<i class="b"></i></span>
<span id="t79" class="t" style="left:807.30px;top:381.80px;font-family:'Noto Sans','Open Sans','Liberation Sans',sans-serif;font-size:8.80px;font-weight:700;color:#141414;transform:scale(0.8500,1.0000);transform-origin:0 0;">%20<i class="b"></i></span>
<span id="t80" class="t" style="left:810.95px;top:396.00px;font-family:'Cairo','DejaVu Sans',sans-serif;font-size:8.64px;font-weight:900;color:#141414;transform:scale(0.9259,1.0000);transform-origin:0 0;">إب<i class="b"></i></span>
<span id="t81" class="t" style="left:809.40px;top:407.00px;font-family:'Noto Sans','Open Sans','Liberation Sans',sans-serif;font-size:8.80px;font-weight:700;color:#141414;transform:scale(0.7889,1.0000);transform-origin:0 0;">%18<i class="b"></i></span>
<span id="t82" class="t" style="left:807.25px;top:422.00px;font-family:'Cairo','DejaVu Sans',sans-serif;font-size:8.64px;font-weight:900;color:#141414;transform:scale(0.9259,1.0000);transform-origin:0 0;">عدن<i class="b"></i></span>
<span id="t83" class="t" style="left:809.00px;top:432.40px;font-family:'Noto Sans','Open Sans','Liberation Sans',sans-serif;font-size:8.80px;font-weight:700;color:#141414;transform:scale(0.8769,1.0000);transform-origin:0 0;">%8<i class="b"></i></span>
<span id="t84" class="t" style="left:799.30px;top:444.00px;font-family:'Cairo','DejaVu Sans',sans-serif;font-size:8.64px;font-weight:900;color:#141414;transform:scale(0.9259,1.0000);transform-origin:0 0;">الحديدة<i class="b"></i></span>
<span id="t85" class="t" style="left:808.50px;top:454.30px;font-family:'Noto Sans','Open Sans','Liberation Sans',sans-serif;font-size:8.80px;font-weight:700;color:#141414;transform:scale(0.8385,1.0000);transform-origin:0 0;">%7<i class="b"></i></span>
<span id="t86" class="t" style="left:752.10px;top:348.00px;font-family:'Cairo','DejaVu Sans',sans-serif;font-size:8.64px;font-weight:900;color:#141414;transform:scale(0.9259,1.0000);transform-origin:0 0;">عمران<i class="b"></i></span>
<span id="t87" class="t" style="left:757.30px;top:358.50px;font-family:'Noto Sans','Open Sans','Liberation Sans',sans-serif;font-size:8.80px;font-weight:700;color:#141414;transform:scale(0.8000,1.0000);transform-origin:0 0;">%3<i class="b"></i></span>
<span id="t88" class="t" style="left:747.80px;top:368.00px;font-family:'Cairo','DejaVu Sans',sans-serif;font-size:8.64px;font-weight:900;color:#141414;transform:scale(0.9259,1.0000);transform-origin:0 0;">المحويت<i class="b"></i></span>
<span id="t89" class="t" style="left:755.40px;top:379.00px;font-family:'Noto Sans','Open Sans','Liberation Sans',sans-serif;font-size:8.80px;font-weight:700;color:#141414;transform:scale(0.8950,1.0000);transform-origin:0 0;">%2.6<i class="b"></i></span>
<span id="t90" class="t" style="left:749.50px;top:393.50px;font-family:'Cairo','DejaVu Sans',sans-serif;font-size:8.64px;font-weight:900;color:#141414;transform:scale(0.9259,1.0000);transform-origin:0 0;">حضرموت<i class="b"></i></span>
<span id="t91" class="t" style="left:757.40px;top:405.10px;font-family:'Noto Sans','Open Sans','Liberation Sans',sans-serif;font-size:8.80px;font-weight:700;color:#141414;transform:scale(0.8452,1.0000);transform-origin:0 0;">%2.1<i class="b"></i></span>
<span id="t92" class="t" style="left:756.55px;top:419.50px;font-family:'Cairo','DejaVu Sans',sans-serif;font-size:8.64px;font-weight:900;color:#141414;transform:scale(0.9259,1.0000);transform-origin:0 0;">أبين<i class="b"></i></span>
<span id="t93" class="t" style="left:755.80px;top:429.80px;font-family:'Noto Sans','Open Sans','Liberation Sans',sans-serif;font-size:8.80px;font-weight:700;color:#141414;transform:scale(0.8314,1.0000);transform-origin:0 0;">%1.8<i class="b"></i></span>
<span id="t94" class="t" style="left:759.40px;top:442.50px;font-family:'Cairo','DejaVu Sans',sans-serif;font-size:8.64px;font-weight:900;color:#141414;transform:scale(0.9259,1.0000);transform-origin:0 0;">لحج<i class="b"></i></span>
<span id="t95" class="t" style="left:755.00px;top:453.00px;font-family:'Noto Sans','Open Sans','Liberation Sans',sans-serif;font-size:8.80px;font-weight:700;color:#141414;transform:scale(0.8314,1.0000);transform-origin:0 0;">%1.8<i class="b"></i></span>
<span id="t96" class="t" style="left:699.35px;top:348.00px;font-family:'Cairo','DejaVu Sans',sans-serif;font-size:8.64px;font-weight:900;color:#141414;transform:scale(0.9259,1.0000);transform-origin:0 0;">صعدة<i class="b"></i></span>
<span id="t97" class="t" style="left:700.00px;top:358.50px;font-family:'Noto Sans','Open Sans','Liberation Sans',sans-serif;font-size:8.80px;font-weight:700;color:#141414;transform:scale(0.8238,1.0000);transform-origin:0 0;">%1.4<i class="b"></i></span>
<span id="t98" class="t" style="left:698.05px;top:369.50px;font-family:'Cairo','DejaVu Sans',sans-serif;font-size:8.64px;font-weight:900;color:#141414;transform:scale(0.9259,1.0000);transform-origin:0 0;">المهرة<i class="b"></i></span>
<span id="t99" class="t" style="left:703.50px;top:379.00px;font-family:'Noto Sans','Open Sans','Liberation Sans',sans-serif;font-size:8.80px;font-weight:700;color:#141414;transform:scale(0.8190,1.0000);transform-origin:0 0;">%1.4<i class="b"></i></span>
<span id="t100" class="t" style="left:698.95px;top:394.50px;font-family:'Cairo','DejaVu Sans',sans-serif;font-size:8.64px;font-weight:900;color:#141414;transform:scale(0.9259,1.0000);transform-origin:0 0;">البيضاء<i class="b"></i></span>
<span id="t101" class="t" style="left:704.00px;top:406.00px;font-family:'Noto Sans','Open Sans','Liberation Sans',sans-serif;font-size:8.80px;font-weight:700;color:#141414;transform:scale(0.8450,1.0000);transform-origin:0 0;">%1.3<i class="b"></i></span>
<span id="t102" class="t" style="left:702.50px;top:420.50px;font-family:'Cairo','DejaVu Sans',sans-serif;font-size:8.64px;font-weight:900;color:#141414;transform:scale(0.9259,1.0000);transform-origin:0 0;">مأرب<i class="b"></i></span>
<span id="t103" class="t" style="left:705.60px;top:430.60px;font-family:'Noto Sans','Open Sans','Liberation Sans',sans-serif;font-size:8.80px;font-weight:700;color:#141414;transform:scale(0.8533,1.0000);transform-origin:0 0;">%1<i class="b"></i></span>
<span id="t104" class="t" style="left:697.90px;top:442.50px;font-family:'Cairo','DejaVu Sans',sans-serif;font-size:8.64px;font-weight:900;color:#141414;transform:scale(0.9259,1.0000);transform-origin:0 0;">الضالع<i class="b"></i></span>
<span id="t105" class="t" style="left:701.70px;top:453.00px;font-family:'Noto Sans','Open Sans','Liberation Sans',sans-serif;font-size:8.80px;font-weight:700;color:#141414;transform:scale(0.8714,1.0000);transform-origin:0 0;">%0.4<i class="b"></i></span>
<span id="t106" class="t" style="left:646.15px;top:348.50px;font-family:'Cairo','DejaVu Sans',sans-serif;font-size:8.64px;font-weight:900;color:#141414;transform:scale(0.9259,1.0000);transform-origin:0 0;">سقطرى<i class="b"></i></span>
<span id="t107" class="t" style="left:652.50px;top:359.30px;font-family:'Noto Sans','Open Sans','Liberation Sans',sans-serif;font-size:8.80px;font-weight:700;color:#141414;transform:scale(0.9000,1.0000);transform-origin:0 0;">%0.4<i class="b"></i></span>
<span id="t108" class="t" style="left:647.65px;top:371.00px;font-family:'Cairo','DejaVu Sans',sans-serif;font-size:8.64px;font-weight:900;color:#141414;transform:scale(0.9259,1.0000);transform-origin:0 0;">شبوة<i class="b"></i></span>
<span id="t109" class="t" style="left:649.40px;top:382.20px;font-family:'Noto Sans','Open Sans','Liberation Sans',sans-serif;font-size:8.80px;font-weight:700;color:#141414;transform:scale(0.9152,1.0000);transform-origin:0 0;">%0.4<i class="b"></i></span>
<span id="t110" class="t" style="left:647.35px;top:393.00px;font-family:'Cairo','DejaVu Sans',sans-serif;font-size:8.64px;font-weight:900;color:#141414;transform:scale(0.9259,1.0000);transform-origin:0 0;">الجوف<i class="b"></i></span>
<span id="t111" class="t" style="left:649.20px;top:403.50px;font-family:'Noto Sans','Open Sans','Liberation Sans',sans-serif;font-size:8.80px;font-weight:700;color:#141414;transform:scale(0.9646,1.0000);transform-origin:0 0;">%0.4<i class="b"></i></span>
<span id="t112" class="t" style="left:586.80px;top:11.60px;font-family:'Liberation Sans',sans-serif;font-size:10.00px;font-weight:700;color:#111;letter-spacing:-0.15px;-webkit-text-stroke:0.45px #111;">Yemen<i class="b"></i></span>
<span id="t113" class="t" style="left:563.80px;top:19.70px;font-family:'Liberation Sans',sans-serif;font-size:10.00px;font-weight:700;color:#111;transform:scale(1.0132,1.0000);transform-origin:0 0;letter-spacing:-0.15px;-webkit-text-stroke:0.45px #111;">Information<i class="b"></i></span>
<span id="t114" class="t" style="left:586.80px;top:28.70px;font-family:'Liberation Sans',sans-serif;font-size:10.00px;font-weight:700;color:#111;letter-spacing:-0.15px;-webkit-text-stroke:0.45px #111;">Center<i class="b"></i></span>
<span id="t115" class="t" style="left:542.80px;top:41.28px;font-family:'Cairo','DejaVu Sans',sans-serif;font-size:8.00px;font-weight:800;color:#1a1a1a;transform:scale(0.9829,0.7200);transform-origin:0 0;">يمن انفورميشن سنتر<i class="b"></i></span>
</body></html>
